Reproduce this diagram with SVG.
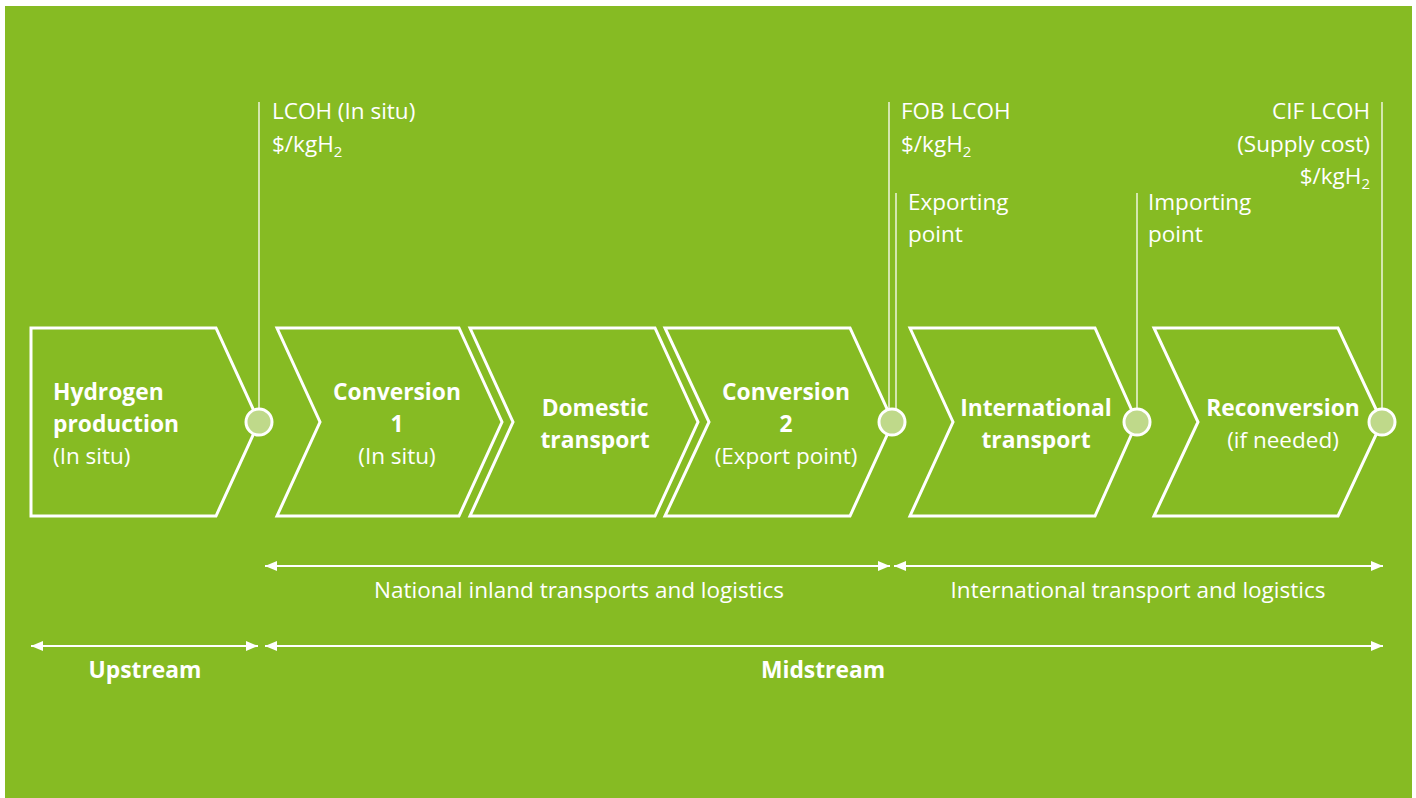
<svg xmlns="http://www.w3.org/2000/svg" width="1416" height="798" viewBox="0 0 1416 798">
<defs>
<style>
.bg{fill:#86BB23}
.chev{fill:none;stroke:#fff;stroke-width:3;stroke-linejoin:miter}
.dot{fill:#BFD98A;stroke:#fff;stroke-width:3}
.vl{stroke:#E8F2D2;stroke-width:1.6;fill:none}
.t{font-family:"Open Sans","Liberation Sans",sans-serif;fill:#fff;font-size:22.5px}
.b{font-weight:bold;font-size:22.8px}
.c{text-anchor:middle}
.r{text-anchor:end}
.arr{stroke:#fff;stroke-width:2;fill:none;marker-start:url(#ah);marker-end:url(#ah)}
</style>
<marker id="ah" viewBox="0 0 12 10" refX="12" refY="5" markerWidth="12" markerHeight="10" markerUnits="userSpaceOnUse" orient="auto-start-reverse">
<path d="M0,0 L12,5 L0,10 Z" fill="#fff"/>
</marker>
</defs>
<rect class="bg" x="5" y="6" width="1407" height="792"/>

<g id="connectors">
<line class="vl" x1="259" y1="102" x2="259" y2="408"/>
<line class="vl" x1="889" y1="102" x2="889" y2="409"/>
<line class="vl" x1="896" y1="193" x2="896" y2="409"/>
<line class="vl" x1="1137" y1="193" x2="1137" y2="408"/>
<line class="vl" x1="1382" y1="102" x2="1382" y2="408"/>
<line class="arr" x1="265" y1="566" x2="890" y2="566"/>
<line class="arr" x1="894" y1="566" x2="1383" y2="566"/>
<line class="arr" x1="31" y1="646" x2="258" y2="646"/>
<line class="arr" x1="265" y1="646" x2="1383" y2="646"/>
</g>

<g id="hydrogen-production">
<polygon class="chev" points="31,328 216,328 259,422 216,516 31,516"/>
<text class="t b" x="53" y="400">Hydrogen</text>
<text class="t b" x="53" y="432">production</text>
<text class="t" x="53" y="464">(In situ)</text>
</g>
<g id="conversion-1">
<polygon class="chev" points="277,328 459,328 502,422 459,516 277,516 320,422"/>
<text class="t b c" x="397" y="400">Conversion</text>
<text class="t b c" x="397" y="432">1</text>
<text class="t c" x="397" y="464">(In situ)</text>
</g>
<g id="domestic-transport">
<polygon class="chev" points="470,328 655,328 698,422 655,516 470,516 513,422"/>
<text class="t b c" x="595" y="416">Domestic</text>
<text class="t b c" x="595" y="448">transport</text>
</g>
<g id="conversion-2">
<polygon class="chev" points="665,328 850,328 893,422 850,516 665,516 709,422"/>
<text class="t b c" x="786" y="400">Conversion</text>
<text class="t b c" x="786" y="432">2</text>
<text class="t c" x="786" y="464">(Export point)</text>
</g>
<g id="international-transport">
<polygon class="chev" points="910,328 1095,328 1137,422 1095,516 910,516 953,422"/>
<text class="t b c" x="1036" y="416">International</text>
<text class="t b c" x="1036" y="448">transport</text>
</g>
<g id="reconversion">
<polygon class="chev" points="1154,328 1338,328 1382,422 1338,516 1154,516 1198,422"/>
<text class="t b c" x="1283" y="416">Reconversion</text>
<text class="t c" x="1283" y="448">(if needed)</text>
</g>

<g id="points">
<circle class="dot" cx="259" cy="422" r="13"/>
<circle class="dot" cx="892" cy="422" r="13"/>
<circle class="dot" cx="1137" cy="422" r="13"/>
<circle class="dot" cx="1382" cy="422" r="13"/>
</g>

<g id="labels">
<text class="t" x="272" y="119">LCOH (In situ)</text>
<text class="t" x="272" y="152">$/kgH<tspan font-size="15" dy="5">2</tspan></text>
<text class="t" x="901" y="119">FOB LCOH</text>
<text class="t" x="901" y="152">$/kgH<tspan font-size="15" dy="5">2</tspan></text>
<text class="t" x="908" y="210">Exporting</text>
<text class="t" x="908" y="242">point</text>
<text class="t" x="1148" y="210">Importing</text>
<text class="t" x="1148" y="242">point</text>
<text class="t r" x="1370" y="119">CIF LCOH</text>
<text class="t r" x="1370" y="152">(Supply cost)</text>
<text class="t r" x="1370" y="184">$/kgH<tspan font-size="15" dy="5">2</tspan></text>
<text class="t c" x="579" y="598">National inland transports and logistics</text>
<text class="t c" x="1138" y="598">International transport and logistics</text>
<text class="t b c" x="145" y="678">Upstream</text>
<text class="t b c" x="823" y="678">Midstream</text>
</g>
</svg>
